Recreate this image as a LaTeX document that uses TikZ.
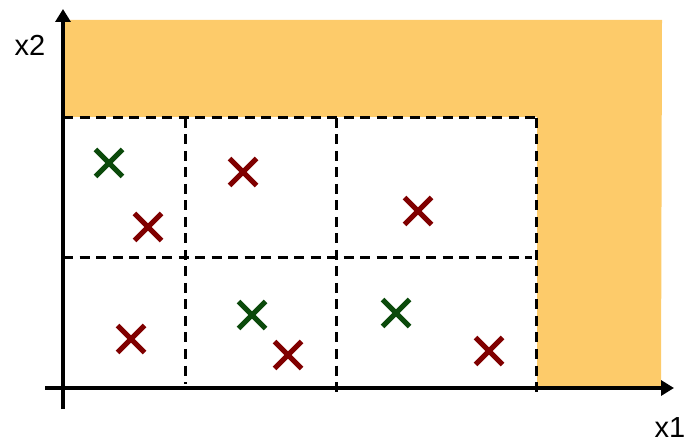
\documentclass[tikz,border=0pt]{standalone}
\usepackage{fontspec}
\setmainfont{Liberation Sans}
\usetikzlibrary{arrows.meta}
\usetikzlibrary{shapes.misc}
\definecolor{zone}{HTML}{FDCB6A}
\definecolor{negc}{HTML}{800000}
\definecolor{posc}{HTML}{0B4A0B}
\begin{document}
\begin{tikzpicture}[x=1pt, y=-1pt,
    grid/.style={dash pattern=on 10pt off 6.5pt, line width=3pt},
    axis/.style={line width=3.8pt, -{Triangle[length=13pt, width=15pt]}},
    sample/.style={cross out, draw, line width=5pt, inner sep=0pt, minimum size=22pt},
    negmark/.style={sample, negc}, posmark/.style={sample, posc},
    lbl/.style={font=\fontsize{29}{31}\selectfont}]
    \useasboundingbox (0,0) rectangle (685,443);
    % region
    \fill[zone] (64,20) -- (662,20) -- (661,387) -- (537,387) -- (537,117) -- (64,117) -- cycle;
    % grid
    \coordinate (tl) at (63,118);  \coordinate (tr) at (535,118);
    \coordinate (ml) at (63,258);  \coordinate (mr) at (532,258);
    \coordinate (a1) at (185,118); \coordinate (b1) at (185,384);
    \coordinate (a2) at (336,118); \coordinate (b2) at (336,396);
    \coordinate (a3) at (536,118); \coordinate (b3) at (536,398);
    \draw[grid] (tl) -- (tr);
    \draw[grid] (ml) -- (mr);
    \draw[grid] (a1) -- (b1);
    \draw[grid] (a2) -- (b2);
    \draw[grid] (a3) -- (b3);
    % axes
    \coordinate (xs) at (45,388);  \coordinate (xe) at (674,388);
    \coordinate (ys) at (63,409);  \coordinate (ye) at (63,9);
    \draw[axis] (xs) -- (xe);
    \draw[axis] (ys) -- (ye);
    \node[lbl] (lx2) at (30,45) {x2};
    \node[lbl] (lx1) at (670,428) {x1};
    % samples
    \node[posmark] (p1) at (109,163) {};
    \node[negmark] (n1) at (148,227) {};
    \node[negmark] (n2) at (243,172) {};
    \node[negmark] (n3) at (418,211) {};
    \node[negmark] (n4) at (131,339) {};
    \node[posmark] (p2) at (252,315) {};
    \node[negmark] (n5) at (288,355) {};
    \node[posmark] (p3) at (396,313) {};
    \node[negmark] (n6) at (489,351) {};
\end{tikzpicture}
\end{document}
